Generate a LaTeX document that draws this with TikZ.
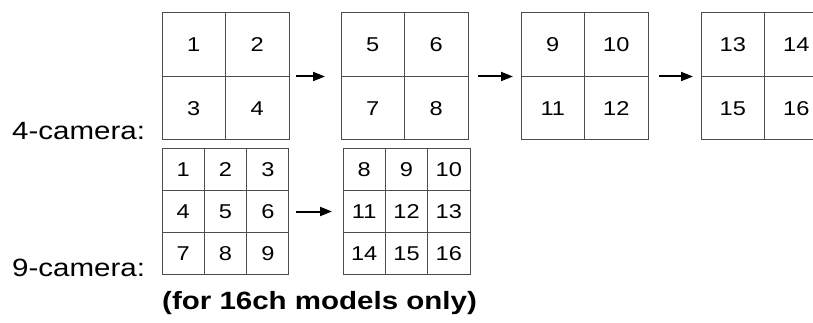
\documentclass[tikz,border=0pt]{standalone}
\usepackage{graphicx}
\usepackage{fontspec}
\setmainfont{Liberation Sans}
\usetikzlibrary{arrows.meta}
\newcommand\widetext[1]{\scalebox{1.18}[1]{#1}}
\tikzset{
  x=1pt,y=-1pt,
  gridline/.style={draw=black!70,line width=1pt},
  cellfour/.style={gridline,rectangle,minimum width=63.5pt,minimum height=63.5pt,inner sep=0pt,outer sep=0pt,
    font=\fontsize{20}{22}\selectfont},
  cellnine/.style={gridline,rectangle,minimum width=42.33pt,minimum height=42.33pt,inner sep=0pt,outer sep=0pt,
    font=\fontsize{20}{22}\selectfont},
  gridframe/.style={rectangle,inner sep=0pt,outer sep=0pt},
  arr/.style={line width=2pt,-{Triangle[length=12pt,width=9pt]}},
  lbl/.style={anchor=base west,inner sep=0pt,font=\fontsize{25}{30}\selectfont},
}
\begin{document}
\begin{tikzpicture}
\useasboundingbox (0,0) rectangle (813,323);
\clip (0,0) rectangle (813,323);
\fill[white] (0,0) rectangle (813,323);
% 4-camera grids
\foreach \g/\gx/\a/\b/\c/\d in {1/162/1/2/3/4, 2/341/5/6/7/8, 3/521/9/10/11/12, 4/701/13/14/15/16}{
  \node[gridframe,minimum width=127pt,minimum height=127pt] (F\g) at (\gx+63.5,76.5) {};
  \node[cellfour] (F\g a) at (\gx+31.75,44.75) {\widetext{\a}};
  \node[cellfour] (F\g b) at (\gx+95.25,44.75) {\widetext{\b}};
  \node[cellfour] (F\g c) at (\gx+31.75,108.25) {\widetext{\c}};
  \node[cellfour] (F\g d) at (\gx+95.25,108.25) {\widetext{\d}};
}
\draw[arr] ([xshift=7pt]F1.east) -- ([xshift=-16pt]F2.west);
\draw[arr] ([xshift=10pt]F2.east) -- ([xshift=-8pt]F3.west);
\draw[arr] ([xshift=11pt]F3.east) -- ([xshift=-8pt]F4.west);
% 9-camera grids
\foreach \g/\gx/\n in {1/162/0, 2/343/7}{
  \node[gridframe,minimum width=127pt,minimum height=127pt] (N\g) at (\gx+63.5,211.5) {};
  \foreach \r in {0,1,2}{
    \foreach \c in {0,1,2}{
      \pgfmathtruncatemacro\num{\n+3*\r+\c+1}
      \node[cellnine] (N\g-\r-\c) at (\gx+21.17+42.33*\c,169.17+42.33*\r) {\widetext{\num}};
    }
  }
}
\draw[arr] ([xshift=7pt]N1.east) -- ([xshift=-11pt]N2.west);
% labels
\node[lbl] (l4) at (12,140) {\widetext{4-camera:}};
\node[lbl] (l9) at (12,276) {\widetext{9-camera:}};
\node[lbl,font=\fontsize{25}{30}\selectfont\bfseries] (note) at (162,309) {\widetext{(for 16ch models only)}};
\end{tikzpicture}
\end{document}
